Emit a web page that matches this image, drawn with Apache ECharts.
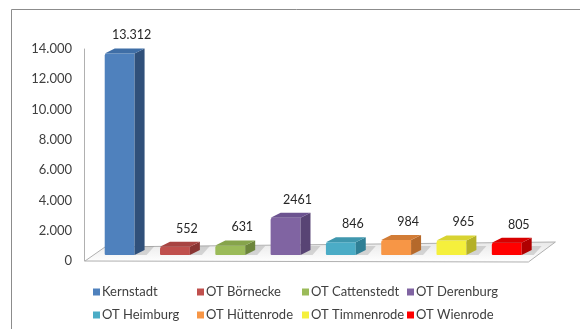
<!DOCTYPE html>
<html>
<head>
<meta charset="utf-8">
<script src="https://cdn.jsdelivr.net/npm/echarts@6/dist/echarts.min.js"></script>
<style>
html,body{margin:0;padding:0;background:#fff;}
#c{width:580px;height:329px;}
</style>
</head>
<body>
<div id="c"></div>
<script>
const categories = ['Kernstadt','OT Börnecke','OT Cattenstedt','OT Derenburg','OT Heimburg','OT Hüttenrode','OT Timmenrode','OT Wienrode'];
const values = [13312, 552, 631, 2461, 846, 984, 965, 805];
const valueLabels = ['13.312','552','631','2461','846','984','965','805'];
const yTicks = ['0','2.000','4.000','6.000','8.000','10.000','12.000','14.000'];
const frontColors = ['#4f81bd','#c0504d','#9bbb59','#8064a2','#4bacc6','#f79646','#f5f03c','#ff0000'];
const sideColors  = ['#30507a','#8a3533','#6c853b','#584474','#2f7f95','#b5692b','#b4b028','#b00000'];
const topColors   = ['#3f6ea6','#a84442','#86a44b','#6c5390','#3f97ae','#d27c36','#d8d331','#d80000'];

const FONT = 'Lato, "Open Sans", sans-serif';

function renderBar(params, api) {
  const idx = params.seriesIndex - 1;
  const i = api.value(0), v = api.value(1);
  const base = api.coord([i, 0]);
  const top = api.coord([i, v]);
  const bw = api.size([1, 0])[0] * 0.54;
  const dx = 10, dy = 5, lift = 6;
  const xl = base[0] - bw / 2, xr = base[0] + bw / 2;
  const yb = base[1] - lift, yt = top[1] - lift;
  return {
    type: 'group',
    children: [
      { type: 'polygon', shape: { points: [[xr, yb], [xr + 12, yb], [xr + 20, yb - 9], [xr + dx, yb - 9]] },
        style: { fill: 'rgba(150,150,150,0.35)' } },
      { type: 'rect', shape: { x: xl, y: yt, width: bw, height: yb - yt, r: [2, 0, 0, 1] },
        style: { fill: frontColors[idx] } },
      { type: 'polygon', shape: { points: [[xr, yt], [xr + dx, yt - dy], [xr + dx, yb - dy], [xr, yb]] },
        style: { fill: sideColors[idx] } },
      { type: 'polygon', shape: { points: [[xl, yt], [xl + dx, yt - dy], [xr + dx, yt - dy], [xr, yt]] },
        style: { fill: topColors[idx] } },
      { type: 'text', style: { text: valueLabels[idx], x: base[0] + 12, y: yt - 18, align: 'center', verticalAlign: 'middle',
        font: '12.5px ' + FONT, fill: '#262626' } }
    ]
  };
}

function renderFloor(params, api) {
  const cs = params.coordSys;
  const x0 = cs.x, x1 = cs.x + cs.width, y0 = cs.y + cs.height;
  return {
    type: 'polygon',
    shape: { points: [[x0 - 7, y0], [x1 - 6, y0 + 1], [x1 + 21, y0 - 19], [x0 + 13, y0 - 14]] },
    style: { fill: { type: 'linear', x: 0, y: 0, x2: 0, y2: 1, colorStops: [{ offset: 0, color: '#e8e8e8' }, { offset: 1, color: '#ffffff' }] },
      stroke: '#b0b0b0', lineWidth: 1 }
  };
}

const series = [{
  type: 'custom', name: 'floor', renderItem: renderFloor, data: [[0, 0]], z: 1, silent: true
}];
categories.forEach((c, i) => {
  series.push({
    type: 'custom', name: c, renderItem: renderBar,
    itemStyle: { color: frontColors[i] },
    encode: { x: 0, y: 1 },
    data: [[i, values[i]]], z: 2
  });
});

const legendLeft = [93, 197, 302, 407];
const legendTop = [285, 308];
const legends = categories.map((c, j) => ({
  left: legendLeft[j % 4], top: legendTop[Math.floor(j / 4)],
  itemWidth: 7, itemHeight: 7, icon: 'rect', padding: 0,
  textStyle: { fontFamily: FONT, fontSize: 13, color: '#404040', lineHeight: 14, padding: [0, 0, 0, -3] },
  data: [c], selectedMode: false
}));

const chart = echarts.init(document.getElementById('c'), null, { renderer: 'canvas' });
chart.setOption({
  animation: false,
  backgroundColor: '#fff',
  graphic: [{ type: 'rect', shape: { x: 11.5, y: 9.5, width: 620, height: 400 }, style: { fill: 'none', stroke: '#8c8c8c', lineWidth: 1 }, silent: true }],
  grid: { left: 92, right: 45.6, top: 49, bottom: 68 },
  legend: legends,
  xAxis: { type: 'category', data: categories, axisLine: { show: false }, axisTick: { show: false }, axisLabel: { show: false }, splitLine: { show: false } },
  yAxis: {
    type: 'value', min: 0, max: 14000, interval: 2000, offset: 8,
    axisLine: { show: true, lineStyle: { color: '#b0b0b0' } },
    axisTick: { show: false },
    splitLine: { show: false },
    axisLabel: { margin: 12, fontFamily: FONT, fontSize: 13, color: '#404040', formatter: (v) => yTicks[Math.round(v / 2000)] }
  },
  series: series
});
</script>
</body>
</html>
